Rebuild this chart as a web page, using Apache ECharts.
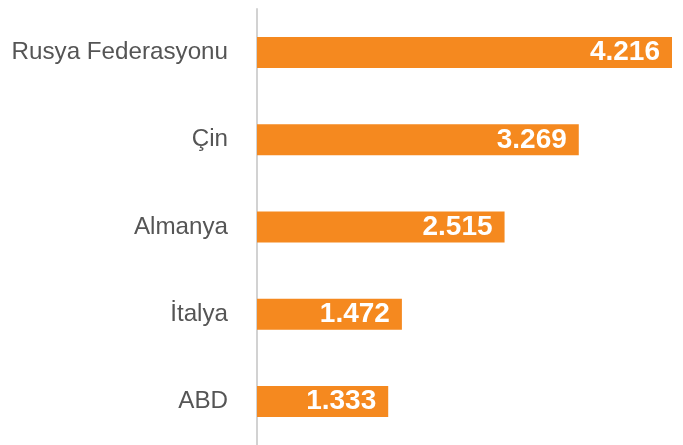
<!DOCTYPE html>
<html>
<head>
<meta charset="utf-8">
<script src="https://cdn.jsdelivr.net/npm/echarts@6/dist/echarts.min.js"></script>
<style>
html, body { margin: 0; padding: 0; background: #fff; }
#chart { width: 683px; height: 445px; }
</style>
</head>
<body>
<div id="chart"></div>
<script>
// veriler
var countries = ['Rusya Federasyonu', 'Çin', 'Almanya', 'İtalya', 'ABD'];
var values = [4.216, 3.269, 2.515, 1.472, 1.333];
var valueLabels = ['4.216', '3.269', '2.515', '1.472', '1.333'];

var chart = echarts.init(document.getElementById('chart'));
var option = {
    animation: false,
    grid: {
        left: 257,
        right: 11,
        top: 9,
        bottom: 0,
        containLabel: false
    },
    xAxis: {
        type: 'value',
        min: 0,
        max: 4.216,
        show: false
    },
    yAxis: {
        type: 'category',
        inverse: true,
        data: countries,
        axisLine: {
            show: true,
            lineStyle: { color: '#d2d2d2', width: 2 }
        },
        axisTick: { show: false },
        axisLabel: {
            color: '#555555',
            fontSize: 24.2,
            fontFamily: 'Liberation Sans, Arial, sans-serif',
            margin: 29
        }
    },
    series: [
        {
            type: 'bar',
            data: values,
            barWidth: 31,
            itemStyle: { color: '#f5891f' },
            label: {
                show: true,
                position: 'insideRight',
                distance: 12,
                color: '#ffffff',
                fontSize: 28,
                fontWeight: 'bold',
                fontFamily: 'Liberation Sans, Arial, sans-serif',
                formatter: function (p) { return valueLabels[p.dataIndex]; }
            }
        }
    ]
};
chart.setOption(option);
</script>
</body>
</html>
